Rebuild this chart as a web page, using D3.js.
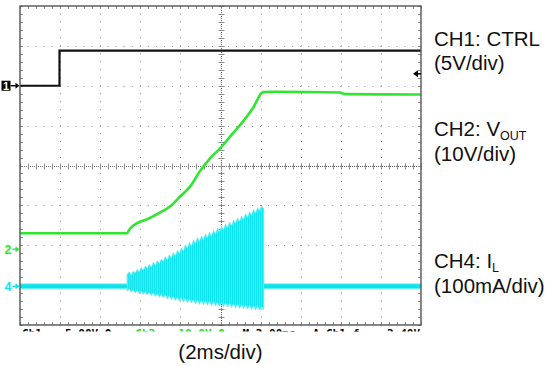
<!DOCTYPE html>
<html><head><meta charset="utf-8">
<script src="https://cdn.jsdelivr.net/npm/d3@7/dist/d3.min.js"></script>
<style>html,body{margin:0;padding:0;background:#fff}svg{display:block}</style>
</head><body>
<svg id="c" width="548" height="366"></svg>
<script>
// ---- data (time in ms, 2 ms/div, 10 divisions) ----
const ch1Time  = [0, 1.97, 1.97, 20];
const ch1Volts = [0, 0, 4.4, 4.4];

const ch2Time  = [0, 5.32, 5.49, 5.82, 6.32, 6.98, 7.48, 7.98, 8.48, 8.98, 9.48, 9.98, 10.62, 11.12, 11.62, 12.12, 12.72, 15.96, 16.21, 20];
const ch2Volts = [4.0, 4.0, 5.2, 6.5, 7.5, 9.2, 10.7, 13.2, 15.7, 19.6, 22.8, 25.3, 29.1, 32.0, 35.4, 39.4, 39.5, 39.3, 38.9, 38.8];

const ch4BaseTime = [0, 20];
const ch4BaseAmps = [0, 0];
const ch4RingTime = [5.35,5.45,5.55,5.65,5.75,5.85,5.95,6.05,6.15,6.25,6.35,6.45,6.55,6.65,6.75,6.85,6.95,7.05,7.15,7.25,7.35,7.45,7.55,7.65,7.75,7.85,7.95,8.05,8.15,8.25,8.35,8.45,8.55,8.65,8.75,8.85,8.95,9.05,9.15,9.25,9.35,9.45,9.55,9.65,9.75,9.85,9.95,10.05,10.15,10.25,10.35,10.45,10.55,10.65,10.75,10.85,10.95,11.05,11.15,11.25,11.35,11.45,11.55,11.65,11.75,11.85,11.95,12.05,12.15];
const ch4RingTop = [30,36,28,38,33,42,35,47,40,51,44,55,48,60,52,64,57,68,62,74,66,79,70,84,76,90,82,96,88,104,95,110,100,116,107,122,112,126,116,131,121,136,125,140,131,145,136,150,141,156,146,161,151,166,157,171,162,176,167,182,172,187,178,192,183,197,189,201,196];
const ch4RingBottom = [-12,-6,-14,-9,-16,-10,-18,-12,-20,-13,-21,-15,-23,-16,-25,-18,-27,-19,-29,-21,-31,-23,-33,-25,-35,-27,-37,-28,-39,-30,-41,-31,-42,-33,-44,-34,-45,-35,-46,-36,-47,-37,-48,-38,-49,-39,-50,-40,-51,-41,-52,-42,-53,-43,-54,-44,-55,-45,-56,-46,-57,-47,-58,-48,-59,-49,-60,-50,-58];

const triggerLevelCh1 = 1.5;   // V
const legendTitles = [["CH1: CTRL", ""], ["CH2: V", "OUT"], ["CH4: I", "L"]];
const legendScales = ["(5V/div)", "(10V/div)", "(100mA/div)"];
const timeLabel = "(2ms/div)";
const readout = [
  {text:"Ch1", color:"#000", t:0.1},
  {text:"5.00V  Ω", color:"#000", t:2.25},
  {text:"Ch2", color:"#22dd22", t:5.75},
  {text:"10.0V  Ω", color:"#22dd22", t:7.9},
  {text:"M 2.00ms", color:"#000", t:11.1},
  {text:"A  Ch1  ƒ", color:"#000", t:14.6},
  {text:"2.40V", color:"#000", t:18.3}
];

// ---- layout ----
const L = 20, R = 421, T = 6, B = 325;
const svg = d3.select("#c");
const x = d3.scaleLinear().domain([0, 20]).range([L, R]);
const yDiv = d3.scaleLinear().domain([-4, 4]).range([B, T]);
const y1 = d3.scaleLinear().domain([-30, 10]).range([B, T]);     // 5 V/div, ground +2 div
const y2 = d3.scaleLinear().domain([-19, 61]).range([B, T]);     // 10 V/div, ground -2.1 div
const y4 = d3.scaleLinear().domain([-97, 703]).range([B, T]);    // 100 mA/div, ground -3.03 div

const gridColor = "#8c8c8c";
const g = svg.append("g");

// minor dotted grid
const minorX = d3.range(0, 50.001, 1).map(i => x(i * 0.4));
const minorY = d3.range(0, 40.001, 1).map(i => yDiv(-4 + i * 0.2));
for (let k = 1; k < 10; k++) {
  if (k === 5) continue;
  const xx = Math.round(x(k * 2)) + 0.5;
  g.selectAll(null).data(minorY).enter().append("rect")
    .attr("x", xx - 0.5).attr("y", d => d - 0.5).attr("width", 1).attr("height", 1).attr("fill", gridColor);
}
for (let j = 1; j < 8; j++) {
  if (j === 4) continue;
  const yy = Math.round(yDiv(-4 + j));
  g.selectAll(null).data(minorX).enter().append("rect")
    .attr("x", d => d - 0.5).attr("y", yy).attr("width", 1).attr("height", 1).attr("fill", gridColor);
}
// centre lines with ticks
const cx = Math.round(x(10)) + 0.5, cy = Math.round(yDiv(0)) + 0.5;
g.append("line").attr("x1", cx).attr("x2", cx).attr("y1", T).attr("y2", B)
  .attr("stroke", "#666").attr("stroke-dasharray", "1,1");
g.append("line").attr("x1", L).attr("x2", R).attr("y1", cy).attr("y2", cy)
  .attr("stroke", "#666").attr("stroke-dasharray", "1,1");
g.selectAll(null).data(minorY).enter().append("line")
  .attr("x1", cx - 3).attr("x2", cx + 3).attr("y1", d => Math.round(d) + 0.5).attr("y2", d => Math.round(d) + 0.5)
  .attr("stroke", gridColor);
g.selectAll(null).data(minorX).enter().append("line")
  .attr("y1", cy - 3).attr("y2", cy + 3).attr("x1", d => Math.round(d) + 0.5).attr("x2", d => Math.round(d) + 0.5)
  .attr("stroke", gridColor);
// edge ticks
g.selectAll(null).data(minorY).enter().append("line")
  .attr("x1", L).attr("x2", L + 3).attr("y1", d => Math.round(d) + 0.5).attr("y2", d => Math.round(d) + 0.5).attr("stroke", gridColor);
g.selectAll(null).data(minorY).enter().append("line")
  .attr("x1", R - 3).attr("x2", R).attr("y1", d => Math.round(d) + 0.5).attr("y2", d => Math.round(d) + 0.5).attr("stroke", gridColor);
g.selectAll(null).data(minorX).enter().append("line")
  .attr("y1", T).attr("y2", T + 3).attr("x1", d => Math.round(d) + 0.5).attr("x2", d => Math.round(d) + 0.5).attr("stroke", gridColor);
g.selectAll(null).data(minorX).enter().append("line")
  .attr("y1", B - 3).attr("y2", B).attr("x1", d => Math.round(d) + 0.5).attr("x2", d => Math.round(d) + 0.5).attr("stroke", gridColor);

// ---- traces ----
const cyan = "#0be4ee";
// CH4 baseline
const base = ch4BaseTime.map((t, i) => [t, ch4BaseAmps[i]]);
svg.append("path").datum(base)
  .attr("d", d3.line().x(d => x(d[0])).y(d => y4(d[1])))
  .attr("stroke", "#7ff3f7").attr("stroke-width", 6).attr("fill", "none");
svg.append("path").datum(base)
  .attr("d", d3.line().x(d => x(d[0])).y(d => y4(d[1])))
  .attr("stroke", cyan).attr("stroke-width", 4).attr("fill", "none");
// CH4 ringing envelope
const ring = ch4RingTime.map((t, i) => ({t, top: ch4RingTop[i], bot: ch4RingBottom[i]}));
svg.append("path").datum(ring)
  .attr("d", d3.area().x(d => x(d.t)).y0(d => y4(d.bot)).y1(d => y4(d.top)))
  .attr("fill", cyan).attr("stroke", "#6cf0f5").attr("stroke-width", 0.8);
svg.selectAll(null).data(ring).enter().append("line")
  .attr("x1", d => x(d.t)).attr("x2", d => x(d.t)).attr("y1", d => y4(d.bot)).attr("y2", d => y4(d.top))
  .attr("stroke", "#5fe9ef").attr("stroke-width", 0.8);

// CH2
svg.append("path").datum(ch2Time.map((t, i) => [t, ch2Volts[i]]))
  .attr("d", d3.line().curve(d3.curveMonotoneX).x(d => x(d[0])).y(d => y2(d[1])))
  .attr("stroke", "#2ee62e").attr("stroke-width", 2.6).attr("fill", "none").attr("stroke-linejoin", "round");

// CH1
svg.append("path").datum(ch1Time.map((t, i) => [t, ch1Volts[i]]))
  .attr("d", d3.line().x(d => x(d[0])).y(d => y1(d[1])))
  .attr("stroke", "#111").attr("stroke-width", 2.2).attr("fill", "none");

// frame
svg.append("rect").attr("x", L).attr("y", T).attr("width", R - L).attr("height", B - T)
  .attr("fill", "none").attr("stroke", "#555").attr("stroke-width", 1.4);

// ---- channel markers ----
function arrow(yy, color, x0) {
  svg.append("line").attr("x1", x0).attr("x2", 17).attr("y1", yy).attr("y2", yy).attr("stroke", color).attr("stroke-width", 1.4);
  svg.append("path").attr("d", `M15.5,${yy-3}L19.5,${yy}L15.5,${yy+3}Z`).attr("fill", color);
}
const g1 = y1(0);
svg.append("rect").attr("x", 1.5).attr("y", g1 - 5).attr("width", 9).attr("height", 10).attr("fill", "#000");
svg.append("text").attr("x", 6).attr("y", g1 + 4).attr("text-anchor", "middle").attr("fill", "#fff")
  .attr("font-family", "Liberation Sans, Arial").attr("font-weight", "bold").attr("font-size", 11).text("1");
arrow(g1, "#000", 10.5);
const g2 = y2(0);
svg.append("text").attr("x", 8).attr("y", g2 + 4.5).attr("text-anchor", "middle").attr("fill", "#2ee62e")
  .attr("font-family", "Liberation Sans, Arial").attr("font-weight", "bold").attr("font-size", 12.5).text("2");
arrow(g2, "#2ee62e", 12.5);
const g4 = y4(0);
svg.append("text").attr("x", 8).attr("y", g4 + 4.5).attr("text-anchor", "middle").attr("fill", cyan)
  .attr("font-family", "Liberation Sans, Arial").attr("font-weight", "bold").attr("font-size", 12.5).text("4");
arrow(g4, cyan, 12.5);

// trigger level arrow on right edge
const ty = y1(triggerLevelCh1);
svg.append("path").attr("d", `M${R-8},${ty}L${R-3},${ty-3.5}L${R-3},${ty+3.5}Z`).attr("fill", "#000");
svg.append("line").attr("x1", R - 4).attr("x2", R).attr("y1", ty).attr("y2", ty).attr("stroke", "#000").attr("stroke-width", 1.5);

// ---- readout (clipped below frame) ----
svg.append("clipPath").attr("id", "ro").append("rect").attr("x", L).attr("y", B + 1).attr("width", R - L).attr("height", 5.5);
const ro = svg.append("g").attr("clip-path", "url(#ro)");
ro.selectAll(null).data(readout).enter().append("text")
  .attr("x", d => x(d.t)).attr("y", B + 12)
  .attr("fill", d => d.color).attr("font-family", "DejaVu Sans Mono, monospace").attr("font-weight", "bold").attr("font-size", 11)
  .text(d => d.text);

// ---- legend ----
const font = "Liberation Sans, Arial, sans-serif";
const titleY = [45.5, 136, 268];
const scaleY = [70, 160.5, 293];
legendTitles.forEach((tt, i) => {
  const t = svg.append("text").attr("x", 434).attr("y", titleY[i]).attr("font-family", font).attr("font-size", 20.5).attr("fill", "#111");
  t.append("tspan").text(tt[0]);
  if (tt[1]) t.append("tspan").attr("dy", 3.5).attr("font-size", 12.5).text(tt[1]);
  svg.append("text").attr("x", 434).attr("y", scaleY[i]).attr("font-family", font).attr("font-size", 20.5).attr("fill", "#111").text(legendScales[i]);
});
svg.append("text").attr("x", x(10)).attr("y", 359).attr("text-anchor", "middle")
  .attr("font-family", font).attr("font-size", 20.5).attr("fill", "#111").text(timeLabel);
</script>
</body></html>
